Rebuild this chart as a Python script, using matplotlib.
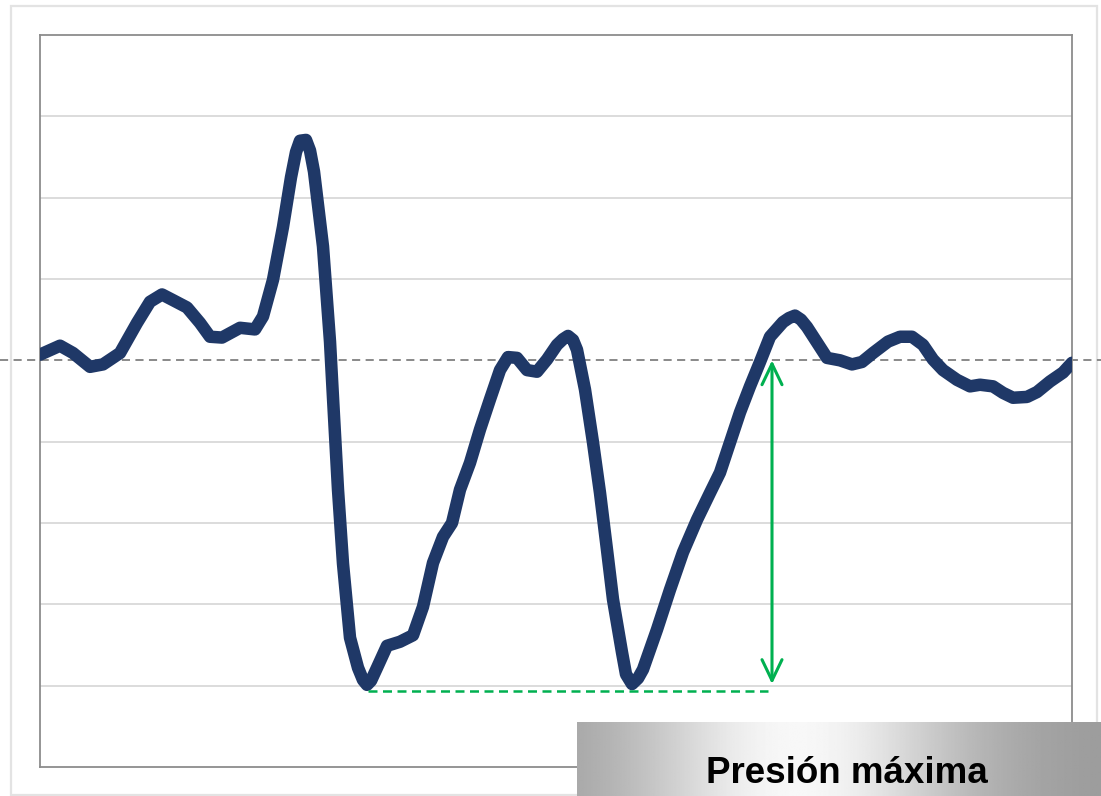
import numpy as np
import matplotlib
matplotlib.use("Agg")
import matplotlib.pyplot as plt
import matplotlib.transforms as mtransforms
from matplotlib.patches import Rectangle

# ---- data ----
t = [0, 20, 33, 50, 63, 80, 97, 110, 122, 133, 147, 160, 170, 182, 200, 215, 223, 233, 243, 251,
     256, 260, 266, 270, 274, 283, 290, 293, 298, 303, 310, 318, 323, 327, 331, 337, 347, 360, 373, 383,
     393, 403, 412, 420, 430, 440, 450, 460, 468, 477, 487, 497, 507, 517, 523, 528, 533, 537, 545, 553,
     560, 567, 573, 582, 586, 592, 598, 603, 617, 630, 643, 657, 670, 680, 690, 700, 710, 720, 730, 743,
     749, 755, 761, 767, 777, 787, 800, 812, 822, 833, 848, 860, 872, 883, 893, 903, 917, 930, 940, 953,
     963, 973, 987, 997, 1010, 1023, 1032]
pressure = [0.07, 0.18, 0.09, -0.08, -0.05, 0.09, 0.46, 0.72, 0.81, 0.74, 0.65, 0.46, 0.29, 0.28, 0.40, 0.38, 0.54, 0.99, 1.64, 2.25,
            2.56, 2.70, 2.71, 2.58, 2.32, 1.40, 0.23, -0.46, -1.59, -2.50, -3.41, -3.78, -3.93, -3.99, -3.94, -3.78, -3.51, -3.46, -3.38, -3.03,
            -2.49, -2.17, -2.00, -1.59, -1.26, -0.85, -0.48, -0.12, 0.04, 0.03, -0.12, -0.14, 0.01, 0.19, 0.26, 0.30, 0.25, 0.13, -0.36, -1.01,
            -1.63, -2.33, -2.94, -3.59, -3.86, -3.98, -3.91, -3.80, -3.31, -2.82, -2.36, -1.96, -1.63, -1.38, -1.01, -0.64, -0.32, -0.02, 0.29, 0.47,
            0.52, 0.55, 0.50, 0.41, 0.22, 0.03, 0.00, -0.05, -0.02, 0.09, 0.23, 0.29, 0.29, 0.19, 0.01, -0.12, -0.24, -0.32, -0.30, -0.32,
            -0.40, -0.46, -0.45, -0.39, -0.26, -0.15, -0.03]
grid_levels = [-4, -3, -2, -1, 1, 2, 3]
baseline = 0.0
arrow_x = 732
arrow_top = 0.0
arrow_bottom = -3.98
min_level = -4.06
min_x0, min_x1 = 328, 728
label = "Presión máxima"

W, H = 1101, 796
fig = plt.figure(figsize=(W / 100, H / 100), dpi=100)
fig.patch.set_facecolor("white")

# outer border (behind everything)
border = Rectangle((11 / W, 1 / H), 1086 / W, 789 / H, transform=fig.transFigure,
                   fill=False, edgecolor="#e3e3e3", linewidth=1.6, zorder=-5)
fig.patches.append(border)

ax = fig.add_axes([40 / W, (H - 767) / H, 1032 / W, 732 / H])
ax.set_xlim(0, 1032)
ax.set_ylim(-5, 4)
ax.set_xticks([])
ax.set_yticks([])
for s in ax.spines.values():
    s.set_color("#8c8c8c")
    s.set_linewidth(1.3)

for g in grid_levels:
    ax.axhline(g, color="#d9d9d9", linewidth=1.3, zorder=1)

# baseline dashed across full figure
tr = mtransforms.blended_transform_factory(fig.transFigure, ax.transData)
ax.plot([0, 1], [baseline, baseline], transform=tr, clip_on=False, color="#808080",
        linewidth=1.3, dashes=(4.5, 3), zorder=2)

ax.plot(t, pressure, color="#1f3867", linewidth=9, solid_joinstyle="round",
        solid_capstyle="round", zorder=3)

# green annotation
ax.plot([min_x0, min_x1], [min_level, min_level], color="#00b050", linewidth=1.8,
        dashes=(3.6, 2.2), zorder=4, clip_on=False)
ax.annotate("", xy=(arrow_x, arrow_bottom), xytext=(arrow_x, arrow_top),
            arrowprops=dict(arrowstyle="<->,head_length=0.75,head_width=0.36", color="#00b050",
                            lw=2.2, shrinkA=0, shrinkB=0, mutation_scale=20), zorder=4)

# gradient label box
bax = fig.add_axes([577 / W, 0, (W - 577) / W, (H - 722) / H], zorder=5)
bax.set_axis_off()
u = np.linspace(0, 1, 400)
v = 0.60 + 0.37 * np.exp(-((u - 0.42) / 0.32) ** 2)
img = np.tile(v, (20, 1))
bax.imshow(img, cmap="gray", vmin=0, vmax=1, aspect="auto", extent=[0, 1, 0, 1])
bax.set_xlim(0, 1)
bax.set_ylim(0, 1)
bax.text(0.5, 0.5, "", transform=bax.transAxes)
fig.text(846.5 / W, (H - 783) / H, label, ha="center", va="baseline", zorder=10,
         fontsize=26.5, fontweight="bold", family=["Liberation Sans", "DejaVu Sans"], color="black")

fig.savefig("out.png", dpi=100)
